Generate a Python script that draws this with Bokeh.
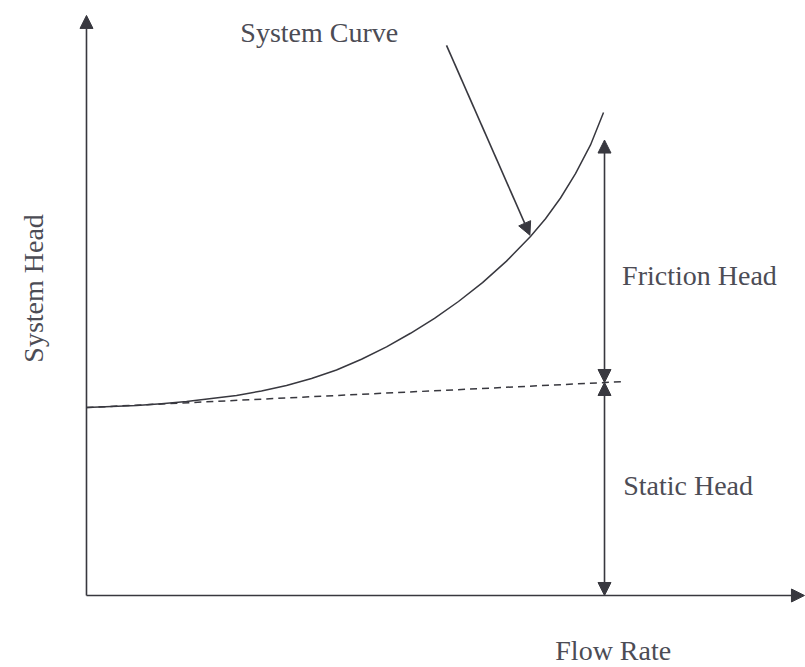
from bokeh.plotting import figure
from bokeh.models import Arrow, NormalHead, Label, Range1d
from bokeh.embed import file_html
from bokeh.resources import INLINE
import math

# ---- data (arbitrary units) ----
flow_rate = [0, 4.83, 9.65, 14.48, 19.31, 24.13, 28.96, 33.78, 38.61, 43.44, 48.26,
             53.09, 57.92, 62.55, 67.18, 71.81, 76.45, 81.08, 85.71, 88.61, 91.51,
             94.40, 97.30, 99.81]
system_head = [38.92, 39.13, 39.34, 39.71, 40.17, 40.79, 41.41, 42.34, 43.48, 44.93, 46.69,
               48.92, 51.49, 54.29, 57.39, 60.87, 64.78, 69.23, 74.33, 78.01, 82.30,
               87.33, 93.29, 100.0]

static_flow = [0, 104.1]
static_line = [38.9, 44.3]

design_flow = 100.0
static_head_at_design = 44.1
friction_top = 94.3

x_axis_end = 138.6
y_axis_end = 120.1

pointer_from = (69.5, 113.9)
pointer_to = (85.6, 74.6)

ink = "#38383f"
text_color = "#4c4c55"
font = "Liberation Serif"

p = figure(width=805, height=667, output_backend="svg", toolbar_location=None,
           x_range=Range1d(-16.60, 138.80), y_range=Range1d(-14.91, 123.19),
           min_border=0, min_border_left=0, min_border_right=0,
           min_border_top=0, min_border_bottom=0)
p.axis.visible = False
p.grid.visible = False
p.outline_line_color = None
p.background_fill_color = "white"
p.border_fill_color = "white"

def head(size=13):
    return NormalHead(size=size, fill_color=ink, line_color=ink, line_width=1)

# axes with arrowheads
p.add_layout(Arrow(end=head(), x_start=0, y_start=0, x_end=x_axis_end, y_end=0,
                   line_color=ink, line_width=1.6))
p.add_layout(Arrow(end=head(), x_start=0, y_start=0, x_end=0, y_end=y_axis_end,
                   line_color=ink, line_width=1.6))

# system curve
p.line(flow_rate, system_head, line_color=ink, line_width=1.5, line_join="round")

# static head dashed line
p.line(static_flow, static_line, line_color=ink, line_width=1.5, line_dash="7 5")

# friction head double arrow
p.add_layout(Arrow(start=head(), end=head(), x_start=design_flow, y_start=static_head_at_design,
                   x_end=design_flow, y_end=friction_top, line_color=ink, line_width=1.6))
# static head double arrow
p.add_layout(Arrow(start=head(), end=head(), x_start=design_flow, y_start=0,
                   x_end=design_flow, y_end=static_head_at_design, line_color=ink, line_width=1.6))

# pointer to system curve
p.add_layout(Arrow(end=head(), x_start=pointer_from[0], y_start=pointer_from[1],
                   x_end=pointer_to[0], y_end=pointer_to[1], line_color=ink, line_width=1.6))

def lab(text, x, y, angle=0.0):
    p.add_layout(Label(x=x, y=y, text=text, angle=angle, text_font=font,
                       text_font_size="28px", text_color=text_color,
                       text_align="left", text_baseline="alphabetic"))

lab("System Curve", 29.7, 116.6)
lab("Friction Head", 103.4, 66.25)
lab("Static Head", 103.6, 22.8)
lab("Flow Rate", 90.5, -11.4)
lab("System Head", -10.2, 48.2, angle=math.pi / 2)

open("out.html", "w").write(file_html(p, INLINE))
